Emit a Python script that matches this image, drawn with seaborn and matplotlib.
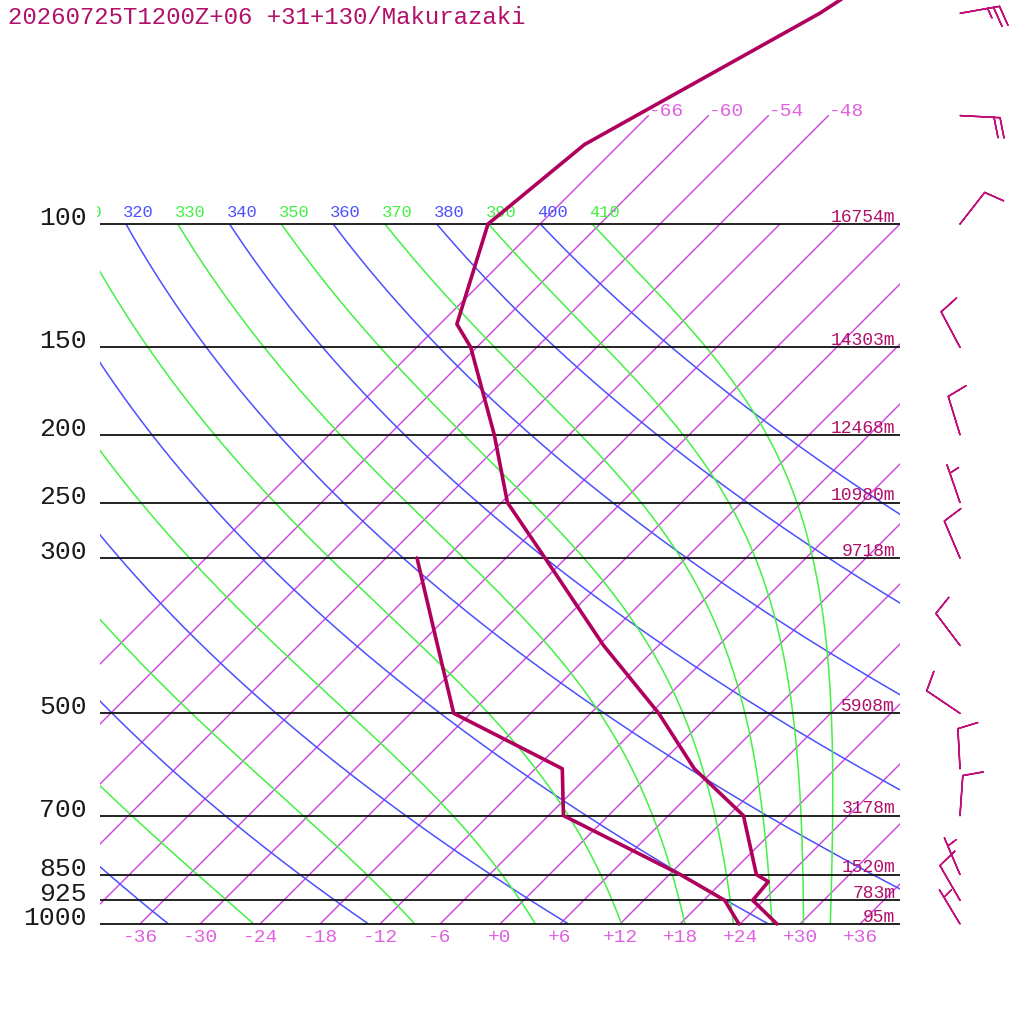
import numpy as np
import pandas as pd
import matplotlib
matplotlib.use("Agg")
import matplotlib.pyplot as plt
from matplotlib.patches import Rectangle
import seaborn as sns

# ---------------- data ----------------
TITLE = "20260725T1200Z+06 +31+130/Makurazaki"

TEMP_P = [1000, 925, 870, 850, 700, 600, 500, 400, 300, 250, 200, 150, 139, 100, 77, 50, 30]
TEMP_C = [27.7, 22.9, 22.6, 20.7, 13.5, 3.9, -5.2, -17.5, -32.1, -41.4, -49.5, -60.6, -64.3, -71.2, -69.5, -59.1, -50.7]

DEW_P = [1000, 925, 850, 700, 600, 500, 400, 300]
DEW_C = [23.9, 20.1, 13.1, -4.5, -9.3, -25.7, -34.1, -44.9]

WIND_P = [1000, 925, 850, 700, 600, 500, 400, 300, 250, 200, 150, 100, 70, 50]
WIND_DIR = [329, 330, 337, 4, 357, 304, 323, 337, 341, 343, 332, 38, 93, 80]
WIND_KT = [5, 10, 5, 10, 10, 10, 10, 10, 5, 10, 10, 10, 20, 25]

LEVELS = [100, 150, 200, 250, 300, 500, 700, 850, 925, 1000]
HEIGHTS = [16754, 14303, 12468, 10980, 9718, 5908, 3178, 1520, 783, 95]

ISOTHERMS = list(range(-66, 37, 6))
ISO_LABELS_BOTTOM = list(range(-36, 37, 6))
ISO_TOP = [-66, -60, -54, -48]
DRY_THETA = list(range(240, 401, 20))
MOIST_THETA = list(range(250, 411, 20))
THETA_LABELS = list(range(310, 411, 10))

# ---------------- style ----------------
C_CURVE = "#b0005e"
C_TEXT = "#b0106a"
C_BLUE = "#4b50ff"
C_GREEN = "#44f044"
C_ISO = "#d040e0"
C_ISO_LBL = "#e060e0"
C_BARB = "#c0107a"

sns.set_theme(style="white")
plt.rcParams["font.family"] = ["Liberation Mono", "DejaVu Sans Mono"]

SKEW = 30.4          # degC per ln(1000/p)
P_BOT, P_TOP = 100.0, 1000.0
X_LEFT, X_RIGHT = -40.0, 40.0


def skew_x(t, p):
    return np.asarray(t, float) + SKEW * np.log(1000.0 / np.asarray(p, float))


fig = plt.figure(figsize=(10.24, 10.24), dpi=100)
ax = fig.add_axes([0, 0, 1, 1])
ax.set_yscale("log")
ax.set_xlim(-50, 52.4)
ax.set_ylim(1000 * np.exp(100 / 304.0), 1000 * np.exp(-924 / 304.0))
ax.set_axis_off()

box = Rectangle((X_LEFT, P_BOT), X_RIGHT - X_LEFT, P_TOP - P_BOT,
                transform=ax.transData, fill=False, visible=False)
ax.add_patch(box)
lblbox = Rectangle((X_LEFT - 0.3, 60), X_RIGHT - X_LEFT + 0.3, P_TOP - 60,
                   transform=ax.transData, fill=False, visible=False)
ax.add_patch(lblbox)

pp = np.geomspace(1000, 100, 400)

# isotherms
for t in ISOTHERMS:
    ln, = ax.plot(skew_x(t, pp), pp, color=C_ISO, lw=1.0, zorder=2)
    ln.set_clip_path(box)
for t in ISO_TOP:
    ptop = np.array([100.0, 70.0])
    ax.plot(skew_x(t, ptop), ptop, color=C_ISO, lw=1.0, zorder=2)
    ax.annotate(f"{t:+d}", (skew_x(t, 70.0), 70.0), xytext=(0, 3.0),
                textcoords="offset points", ha="left", va="center",
                color=C_ISO_LBL, fontsize=14)
for t in ISO_LABELS_BOTTOM:
    ax.annotate(f"{t:+d}", (t, 1000), xytext=(0, -9.5), textcoords="offset points",
                ha="center", va="center", color=C_ISO_LBL, fontsize=14)

# dry adiabats
for th in DRY_THETA:
    tk = th * (pp / 1000.0) ** 0.2857
    ln, = ax.plot(skew_x(tk - 273.15, pp), pp, color=C_BLUE, lw=1.1, zorder=2)
    ln.set_clip_path(box)

# moist (pseudo) adiabats, integrated from 100 hPa downward
Rd, Cpd, Lv, EPS = 287.04, 1005.7, 2.501e6, 0.622


def rsat(T, p):
    es = 6.112 * np.exp(17.67 * (T - 273.15) / (T - 29.65))
    return EPS * es / (p - es)


def dTdlnp(T, p):
    r = rsat(T, p)
    return (Rd * T + Lv * r) / (Cpd + Lv * Lv * r * EPS / (Rd * T * T))


lnp = np.linspace(np.log(100.0), np.log(1000.0), 600)
for th in MOIST_THETA:
    T = th * (0.1) ** 0.2857
    temps = [T]
    for i in range(len(lnp) - 1):
        h = lnp[i + 1] - lnp[i]
        p0 = np.exp(lnp[i]); p1 = np.exp(lnp[i] + h / 2); p2 = np.exp(lnp[i + 1])
        k1 = dTdlnp(T, p0)
        k2 = dTdlnp(T + h / 2 * k1, p1)
        k3 = dTdlnp(T + h / 2 * k2, p1)
        k4 = dTdlnp(T + h * k3, p2)
        T = T + h / 6 * (k1 + 2 * k2 + 2 * k3 + k4)
        temps.append(T)
    pm = np.exp(lnp)
    ln, = ax.plot(skew_x(np.array(temps) - 273.15, pm), pm, color=C_GREEN, lw=1.1, zorder=2)
    ln.set_clip_path(box)

# theta labels at 100 hPa
for th in THETA_LABELS:
    t100 = th * 0.1 ** 0.2857 - 273.15
    col = C_BLUE if th % 20 == 0 else C_GREEN
    txt = ax.annotate(str(th), (skew_x(t100, 100), 100), xytext=(-2, 3),
                      textcoords="offset points", ha="left", va="bottom",
                      color=col, fontsize=12.3)
    txt.set_clip_path(lblbox)

# isobars
ax.hlines(LEVELS, X_LEFT, X_RIGHT, color="#111111", lw=1.3, zorder=3)
for p, h in zip(LEVELS, HEIGHTS):
    ax.annotate(str(p), (X_LEFT, p), xytext=(-9.5, -0.8), textcoords="offset points",
                ha="right", va="baseline", color="#1a1a1a", fontsize=19)
    ax.annotate(f"{h}m", (X_RIGHT, p), xytext=(-3.5, 1.6), textcoords="offset points",
                ha="right", va="baseline", color=C_TEXT, fontsize=13)

# profiles (seaborn)
df_t = pd.DataFrame({"x": skew_x(TEMP_C, TEMP_P), "p": TEMP_P})
df_d = pd.DataFrame({"x": skew_x(DEW_C, DEW_P), "p": DEW_P})
sns.lineplot(data=df_t, x="x", y="p", sort=False, estimator=None, color=C_CURVE,
             lw=2.6, ax=ax, zorder=5)
sns.lineplot(data=df_d, x="x", y="p", sort=False, estimator=None, color=C_CURVE,
             lw=2.6, ax=ax, zorder=5)
ax.set_axis_off()

# wind barbs
wd = np.deg2rad(np.array(WIND_DIR, float))
ws = np.array(WIND_KT, float)
u = -ws * np.sin(wd)
v = -ws * np.cos(wd)
ax.barbs(np.full(len(WIND_P), 46.0), WIND_P, u, v, length=7.6, pivot="tip",
         color=C_BARB, linewidth=1.1, zorder=6,
         sizes=dict(spacing=0.15, height=0.5))

fig.text(8 / 1024, 1 - 6 / 1024, TITLE, ha="left", va="top", color=C_TEXT, fontsize=17.3)

fig.savefig("out.png", dpi=100)
